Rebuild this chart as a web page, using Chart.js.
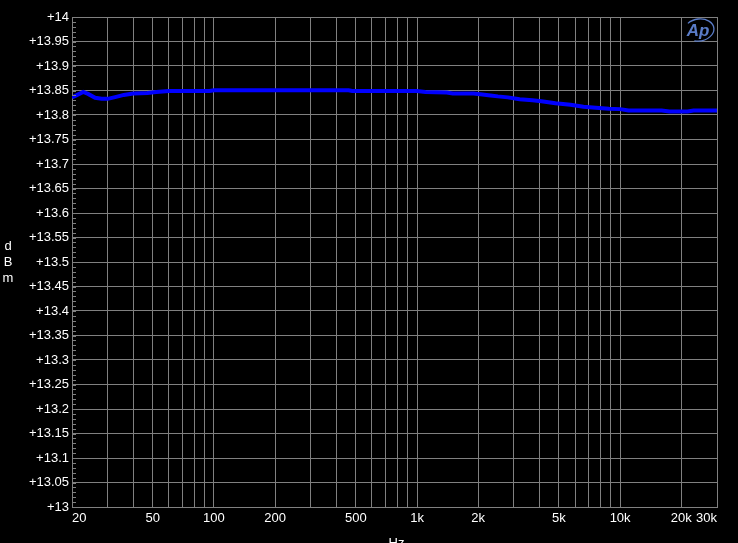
<!DOCTYPE html>
<html>
<head>
<meta charset="utf-8">
<script src="https://cdn.jsdelivr.net/npm/chart.js@4/dist/chart.umd.min.js"></script>
<style>
html,body{margin:0;padding:0;background:#000;}
#wrap{width:738px;height:543px;}
</style>
</head>
<body>
<div id="wrap"><canvas id="c" width="738" height="543"></canvas></div>
<script>
// Frequencies (Hz) and level (dBm)
const freqs = [20, 21, 22.7, 24, 26, 28, 30, 33, 36, 40, 47, 52, 60, 80, 95, 100, 200, 460, 480, 1000, 1100, 1400, 1500, 1900, 2100, 2300, 2500, 2800, 3200, 3700, 4100, 4800, 5700, 6600, 7600, 8800, 10000, 11000, 16000, 17500, 21500, 23000, 30000];
const levels = [13.836, 13.840, 13.847, 13.843, 13.835, 13.833, 13.833, 13.837, 13.841, 13.844, 13.845, 13.847, 13.849, 13.849, 13.849, 13.8505, 13.8505, 13.8505, 13.849, 13.849, 13.847, 13.846, 13.844, 13.844, 13.842, 13.840, 13.838, 13.836, 13.832, 13.830, 13.828, 13.824, 13.821, 13.817, 13.815, 13.813, 13.812, 13.809, 13.809, 13.807, 13.807, 13.809, 13.809];

const xGridValues = [20,30,40,50,60,70,80,90,100,200,300,400,500,600,700,800,900,1000,2000,3000,4000,5000,6000,7000,8000,9000,10000,20000,30000];
const xTickLabels = {20:'20',50:'50',100:'100',200:'200',500:'500',1000:'1k',2000:'2k',5000:'5k',10000:'10k',20000:'20k',30000:'30k'};
const yTickValues = [13,13.05,13.1,13.15,13.2,13.25,13.3,13.35,13.4,13.45,13.5,13.55,13.6,13.65,13.7,13.75,13.8,13.85,13.9,13.95,14];
const yMinorStep = 0.01;
const yLabel = ['d','B','m'];
const xTitle = 'Hz';

const points = freqs.map((f,i)=>({x:f,y:levels[i]}));
const FONT = "'Liberation Sans', Arial, sans-serif";
const GRID = '#808080';

const bgPlugin = {
  id:'bg',
  beforeDraw(chart){
    const c=chart.ctx; c.save(); c.fillStyle='#000'; c.fillRect(0,0,chart.width,chart.height); c.restore();
  },
  afterDraw(chart){
    const c=chart.ctx, a=chart.chartArea, ys=chart.scales.y;
    c.save();
    // minor y ticks
    c.strokeStyle=GRID; c.lineWidth=1;
    for(let v=ys.min; v<=ys.max+1e-9; v+=yMinorStep){
      const py=Math.round(ys.getPixelForValue(v))+0.5;
      c.beginPath(); c.moveTo(a.left,py); c.lineTo(a.left+4,py); c.stroke();
    }
    // y label stacked
    c.fillStyle='#fff'; c.font='13px '+FONT; c.textAlign='center'; c.textBaseline='middle';
    const midY=(a.top+a.bottom)/2;
    yLabel.forEach((ch,i)=>{ c.fillText(ch, 8, midY-16+i*16); });
    // x title
    c.textBaseline='top';
    c.fillText(xTitle, (a.left+a.right)/2+2, a.bottom+30);
    // Ap logo
    const lx=a.right-19, ly=a.top+13;
    c.strokeStyle='#5a7cc8'; c.lineWidth=1.3;
    c.beginPath(); c.ellipse(lx+1,ly,15,11,-0.15,-2.3,2.0); c.stroke();
    c.fillStyle='#5a7cc8'; c.font='italic bold 17px '+FONT; c.textAlign='center'; c.textBaseline='middle';
    c.fillText('Ap', lx, ly+1);
    c.restore();
  }
};

new Chart(document.getElementById('c'), {
  type:'line',
  data:{ datasets:[{ data:points, borderColor:'#0000ff', borderWidth:4, pointRadius:0, tension:0, fill:false }] },
  options:{
    responsive:false, animation:false, devicePixelRatio:1,
    layout:{ padding:{ left:0, top:17, right:21, bottom:0 } },
    plugins:{ legend:{display:false}, tooltip:{enabled:false} },
    scales:{
      x:{
        type:'logarithmic', min:20, max:30000,
        afterBuildTicks(s){ s.ticks = xGridValues.map(v=>({value:v})); },
        afterFit(s){ s.height = 36; },
        grid:{ color:GRID, lineWidth:1, drawTicks:false },
        border:{ color:GRID },
        ticks:{ color:'#fff', font:{family:FONT,size:13}, padding:4, autoSkip:false, maxRotation:0, align:'inner',
          callback:(v)=> xTickLabels[v] || '' }
      },
      y:{
        type:'linear', min:13, max:14,
        afterBuildTicks(s){ s.ticks = yTickValues.map(v=>({value:v})); },
        afterFit(s){ s.width = 72; },
        grid:{ color:GRID, lineWidth:1, drawTicks:false },
        border:{ color:GRID },
        ticks:{ color:'#fff', font:{family:FONT,size:13}, padding:3,
          callback:(v)=> '+' + parseFloat(Number(v).toFixed(2)) }
      }
    }
  },
  plugins:[bgPlugin]
});
</script>
</body>
</html>
